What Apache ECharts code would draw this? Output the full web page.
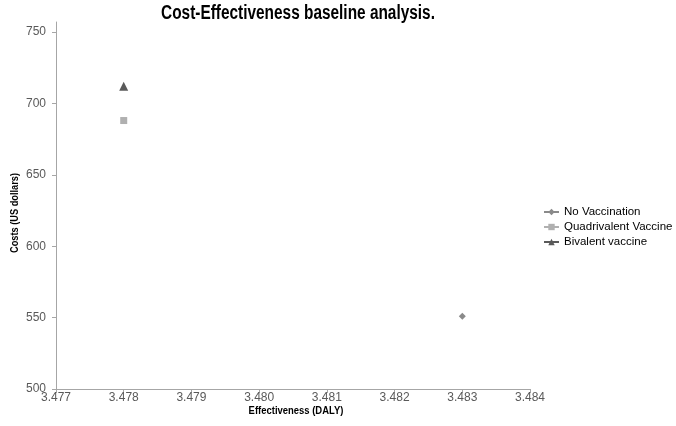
<!DOCTYPE html>
<html>
<head>
<meta charset="utf-8">
<script src="https://cdn.jsdelivr.net/npm/echarts@6/dist/echarts.min.js"></script>
<style>
html,body{margin:0;padding:0;background:#fff;}
#chart{width:676px;height:426px;}
</style>
</head>
<body>
<div id="chart"></div>
<script>
var seriesNames = ['No Vaccination', 'Quadrivalent Vaccine', 'Bivalent vaccine'];
var effectiveness = [3.483, 3.478, 3.478];
var costs = [551, 688, 712];
var symbols = ['diamond', 'rect', 'triangle'];
var colors = ['#8a8a8a', '#b0b0b0', '#5a5a5a'];
var symbolSizes = [7, 7, 9];
var titleText = 'Cost-Effectiveness baseline analysis.';
var xName = 'Effectiveness (DALY)';
var yName = 'Costs (US dollars)';

var chart = echarts.init(document.getElementById('chart'));
var sans = "'Liberation Sans', Arial, sans-serif";
var series = seriesNames.map(function (n, i) {
  return {
    name: n,
    type: 'line',
    data: [[effectiveness[i], costs[i]]],
    symbol: symbols[i],
    symbolSize: symbolSizes[i],
    showSymbol: true,
    itemStyle: { color: colors[i] },
    lineStyle: { color: colors[i], width: 1.5 }
  };
});
chart.setOption({
  animation: false,
  graphic: [
    { type: 'text', x: 298, y: 13, scaleX: 0.77,
      style: { text: titleText, font: 'bold 20px ' + sans, fill: '#000', align: 'center', verticalAlign: 'middle' } },
    { type: 'text', x: 296, y: 411, scaleX: 0.86,
      style: { text: xName, font: 'bold 11px ' + sans, fill: '#000', align: 'center', verticalAlign: 'middle' } },
    { type: 'text', x: 15, y: 213, rotation: Math.PI / 2, scaleX: 0.84,
      style: { text: yName, font: 'bold 11px ' + sans, fill: '#000', align: 'center', verticalAlign: 'middle' } }
  ],
  grid: { left: 56, right: 146, top: 22, bottom: 37, outerBoundsMode: 'none', containLabel: false },
  legend: {
    orient: 'vertical', left: 538, top: 201,
    itemWidth: 15, itemHeight: 8, itemGap: 3,
    textStyle: { fontFamily: sans, fontSize: 11.5, color: '#000' },
    data: seriesNames
  },
  xAxis: {
    type: 'value', min: 3.477, max: 3.484, interval: 0.001,
    axisLine: { show: true, lineStyle: { color: '#a6a6a6' } },
    axisTick: { show: true, length: 4, lineStyle: { color: '#a6a6a6' } },
    axisLabel: { fontFamily: sans, fontSize: 12, color: '#595959', margin: 3,
      formatter: function (v) { return v.toFixed(3); } },
    splitLine: { show: false }
  },
  yAxis: {
    type: 'value', min: 500, max: 757, interval: 50,
    axisLine: { show: true, lineStyle: { color: '#a6a6a6' } },
    axisTick: { show: true, length: 4, lineStyle: { color: '#a6a6a6' } },
    axisLabel: { fontFamily: sans, fontSize: 12, color: '#595959', margin: 10, showMaxLabel: false },
    splitLine: { show: false }
  },
  series: series
});
</script>
</body>
</html>
